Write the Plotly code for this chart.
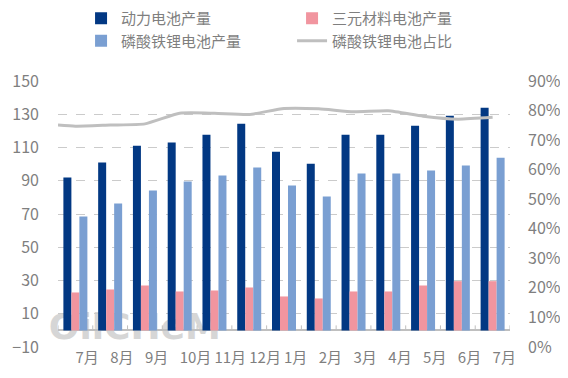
import plotly.graph_objects as go

# ---- data ----
months = ["7月", "8月", "9月", "10月", "11月", "12月", "1月", "2月", "3月", "4月", "5月", "6月", "7月"]
power_output = [92.0, 101.0, 111.0, 113.0, 117.7, 124.3, 107.5, 100.3, 117.7, 117.7, 123.1, 129.1, 133.9]
ternary_output = [22.8, 24.6, 27.0, 23.4, 24.0, 25.8, 20.4, 19.2, 23.4, 23.4, 27.0, 29.6, 29.6]
lfp_output = [68.5, 76.3, 84.1, 89.5, 93.1, 97.9, 87.1, 80.5, 94.3, 94.3, 96.1, 99.1, 103.9]
lfp_ratio = [74.7, 75.1, 75.5, 79.1, 79.1, 78.7, 80.7, 80.6, 79.6, 79.9, 78.1, 77.1, 77.7]
lfp_ratio_prev = 75.1  # value carried in from the previous period (left edge)
left_ticks = [-10, 10, 30, 50, 70, 90, 110, 130, 150]
right_ticks = [0, 10, 20, 30, 40, 50, 60, 70, 80, 90]
right_labels = [f"{v}%" for v in right_ticks]

C_POWER = "#023883"
C_TERN = "#f1959f"
C_LFP = "#7a9fd2"
C_RATIO = "#bfbfbf"
TXT = "#7f7f7f"
FONT = "Noto Sans CJK SC, Microsoft YaHei, sans-serif"

idx = list(range(len(months)))
line_x = [idx[0] - 0.5] + idx
line_y = [lfp_ratio_prev] + lfp_ratio

fig = go.Figure()
fig.add_trace(go.Bar(x=idx, y=power_output, name="动力电池产量", marker_color=C_POWER, marker_line_width=0))
fig.add_trace(go.Bar(x=idx, y=ternary_output, name="三元材料电池产量", marker_color=C_TERN, marker_line_width=0))
fig.add_trace(go.Bar(x=idx, y=lfp_output, name="磷酸铁锂电池产量", marker_color=C_LFP, marker_line_width=0))
fig.add_trace(go.Scatter(x=line_x, y=line_y, name="磷酸铁锂电池占比", yaxis="y2", mode="lines",
                         line=dict(color=C_RATIO, width=3, shape="spline", smoothing=0.5)))

shapes = []
# category boundary tick marks on the zero line
for k in range(len(months) + 1):
    shapes.append(dict(type="line", xref="x", yref="y", x0=k - 0.5, x1=k - 0.5, y0=0, y1=3,
                       line=dict(color="#bfbfbf", width=1), layer="above"))
# watermark
shapes.append(dict(type="rect", xref="paper", yref="paper", x0=-0.08, x1=0.42, y0=0.03, y1=0.15,
                   line=dict(width=0), fillcolor="rgba(0,0,0,0)", layer="below",
                   label=dict(text="<b>OilCHeM</b>", textposition="middle center",
                              font=dict(size=36, color="#d6d6d6", family="DejaVu Sans"))))

fig.update_layout(
    width=560, height=370,
    margin=dict(l=50, r=58, t=73, b=31, autoexpand=False),
    paper_bgcolor="white", plot_bgcolor="white",
    font=dict(family=FONT, color=TXT, size=15),
    barmode="group", bargap=0.31, bargroupgap=0,
    showlegend=True,
    legend=dict(orientation="h", x=0.051, y=1.297, xanchor="left", yanchor="top",
                entrywidth=166, entrywidthmode="pixels", font=dict(size=15, color=TXT),
                bgcolor="rgba(0,0,0,0)", itemclick=False),
    xaxis=dict(range=[-0.5, len(months) - 0.5], tickmode="array", tickvals=idx, ticktext=months,
               ticklabelposition="outside right", tickangle=0, showgrid=False, zeroline=False,
               showline=False, ticks="", tickfont=dict(size=15, color=TXT), automargin=False),
    yaxis=dict(range=[-10, 150], tickmode="array", tickvals=left_ticks, showgrid=True,
               gridcolor="#cbcbcb", griddash="dash", gridwidth=1,
               zeroline=True, zerolinecolor="#bfbfbf", zerolinewidth=1.5, automargin=False,
               showline=False, ticks="", ticklabelstandoff=18, tickfont=dict(size=16, color=TXT)),
    yaxis2=dict(range=[0, 90], overlaying="y", side="right", tickmode="array", tickvals=right_ticks,
                ticktext=right_labels, showgrid=False, zeroline=False, showline=False, ticks="",
                automargin=False, ticklabelstandoff=17, tickfont=dict(size=16, color=TXT)),
    shapes=shapes,
)

fig.write_html("out.html")
